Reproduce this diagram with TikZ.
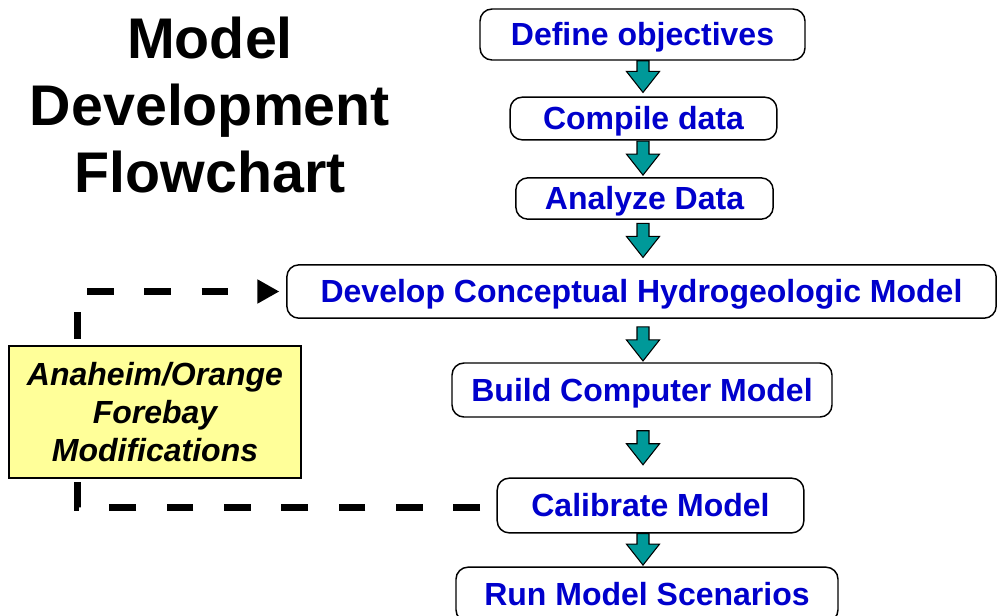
\documentclass[tikz,border=0pt]{standalone}
\usepackage{fontspec}
\setmainfont{Liberation Sans}
\usetikzlibrary{arrows.meta, calc, positioning}
\definecolor{stepblue}{RGB}{0,0,204}
\definecolor{arrowteal}{RGB}{0,153,153}
\definecolor{notefill}{RGB}{255,255,153}

% block arrow between two steps, on the spine; #1 = gap above the lower step
\newcommand{\flowarrow}[3][1.5pt]{%
  \draw[arrowfill] let \p1=(#2.south), \p2=(#3.north), \p3=(spine),
      \n1={\y2+#1}, \n2={min(\y1,\n1+25.5pt)} in
    (\x3-4.5pt,\n2) -- (\x3+4.5pt,\n2) -- (\x3+4.5pt,\n1+15.75pt) -- (\x3+12.4pt,\n1+15.75pt)
    -- (\x3,\n1) -- (\x3-12.4pt,\n1+15.75pt) -- (\x3-4.5pt,\n1+15.75pt) -- cycle;}

\begin{document}
\begin{tikzpicture}[
    x=0.75pt, y=-0.75pt,
    stepbox/.style={draw, line width=1.1pt, rounded corners=9pt, fill=white, text=stepblue,
        font=\fontsize{24}{28}\selectfont\bfseries, text height=17pt, text depth=0pt, inner sep=0pt},
    notebox/.style={draw, line width=0.8pt, fill=notefill, align=center, inner sep=0pt,
        font=\fontsize{24}{28.5}\selectfont\bfseries\itshape},
    heading/.style={align=center, font=\fontsize{43}{50.6}\selectfont\bfseries},
    arrowfill/.style={fill=arrowteal, draw=black, line width=0.8pt, line join=miter},
    feedback/.style={line width=5.25pt, dash pattern=on 20pt off 23pt}
]
    \clip (0,0) rectangle (997,615);
    \fill[white] (0,0) rectangle (997,615);
    \coordinate (spine) at (643,0);
    \coordinate (loopx) at (77,0);

    \node[heading] (title) at (210,105) {Model\\Development\\Flowchart};

    \node[stepbox, minimum width=243.75pt, minimum height=38.25pt] (define) at (642.5,34.5) {Define objectives};
    \node[stepbox, minimum width=200pt, minimum height=32pt] (compile) at (643.5,118.5) {Compile data};
    \node[stepbox, minimum width=193pt, minimum height=31pt] (analyze) at (644.5,198.5) {Analyze Data};
    \node[stepbox, minimum width=532pt, minimum height=40pt] (develop) at (641.5,291.5) {Develop Conceptual Hydrogeologic Model};
    \node[stepbox, minimum width=285pt, minimum height=40.5pt] (build) at (642,390) {Build Computer Model};
    \node[stepbox, minimum width=230pt, minimum height=41pt] (calib) at (650.5,505.5) {Calibrate Model};
    \node[stepbox, minimum width=286.5pt, minimum height=41pt] (run) at (647,594.5) {Run Model Scenarios};

    \node[notebox, minimum width=219pt, minimum height=99pt] (mods) at (155,412) {Anaheim/Orange\\Forebay\\Modifications};

    \flowarrow[3pt]{define}{compile}
    \flowarrow[1.5pt]{compile}{analyze}
    \flowarrow[5pt]{analyze}{develop}
    \flowarrow[1pt]{develop}{build}
    \flowarrow[9.5pt]{build}{calib}
    \flowarrow[1pt]{calib}{run}

    % feedback loop
    \coordinate (ret) at (480,507);
    \draw[feedback] (ret) -| (mods.south -| loopx);
    \draw[feedback, dash phase=38pt, -{Triangle[width=17pt, length=16.5pt]}, shorten >=5pt]
        (mods.north -| loopx) |- (develop.west);
\end{tikzpicture}
\end{document}
